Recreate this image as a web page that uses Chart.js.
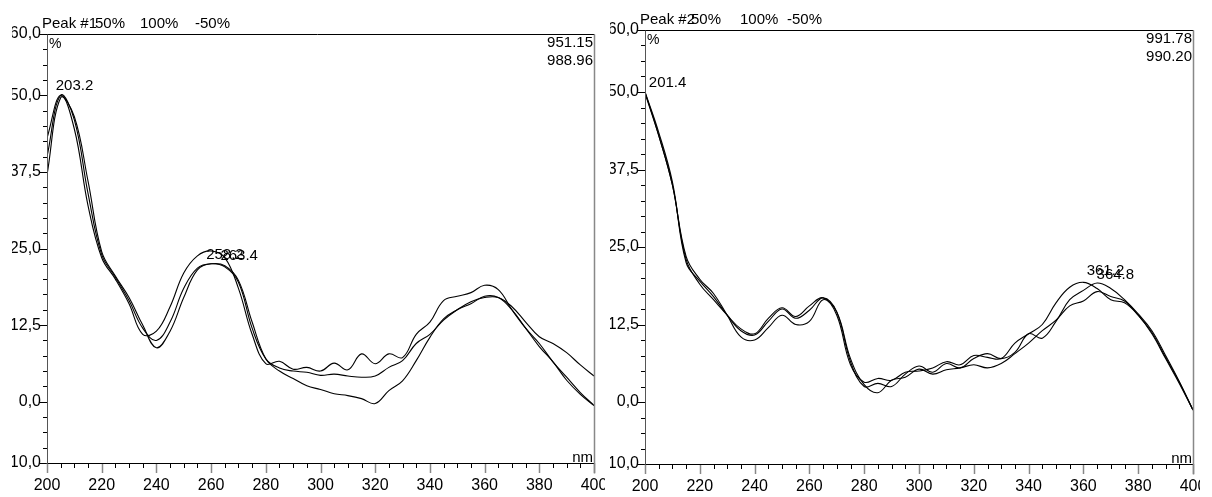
<!DOCTYPE html>
<html>
<head>
<meta charset="utf-8">
<script src="https://cdn.jsdelivr.net/npm/chart.js@4.4.1/dist/chart.umd.min.js"></script>
<style>
  body { margin: 0; background: #fff; width: 1212px; height: 497px; position: relative; overflow: hidden; }
  .panel { position: absolute; top: 0; }
  #p1 { left: 12px; }
  #p2 { left: 610px; }
</style>
</head>
<body>
<div class="panel" id="p1"><canvas id="c1" width="593" height="497"></canvas></div>
<div class="panel" id="p2"><canvas id="c2" width="590" height="497"></canvas></div>
<script>
const FONT = "'Liberation Sans', Arial, sans-serif"

// wavelength grid (nm)
const wavelengths = [200, 205, 210, 215, 220, 225, 230, 235, 240, 245, 250, 255, 260, 265, 270, 275, 280, 285, 290, 295, 300,
  305, 310, 315, 320, 325, 330, 335, 340, 345, 350, 355, 360, 365, 370, 375, 380, 385, 390, 395, 400]

// Peak #1 spectra (%)
const peak1A = [43, 50, 44.5, 32, 23.5, 20, 16, 11, 11.5, 15.5, 21, 23.8, 24.6, 23.5, 18.5, 11, 6.2, 6.6, 5.3, 5.6, 5.0,
  6.3, 5.2, 7.8, 6.2, 7.8, 7.2, 11, 13, 16.5, 17.2, 17.8, 19, 18.3, 15, 12, 9.5, 6.5, 4, 1.5, -0.6]
const peak1B = [40, 50, 46, 34, 24, 20.3, 16.5, 12, 10, 13, 18.5, 21.8, 22.5, 22, 19.5, 12, 7, 5.5, 5, 4.8, 4.3,
  4.5, 4.2, 4.0, 4.2, 5.6, 6.7, 9.5, 11, 13.3, 15, 16.3, 17, 17, 15.5, 13, 10.6, 9.5, 8, 6, 4.2]
const peak1C = [37, 49.6, 46.5, 36, 24.5, 20.5, 17, 12.5, 8.8, 11.5, 17, 21.5, 22.5, 22.2, 19.8, 13, 7, 5, 3.8, 2.6, 2.0,
  1.3, 1.0, 0.5, -0.3, 1.8, 3.4, 6.7, 10.5, 13.5, 15, 16, 17.2, 17, 15, 12, 9, 6.5, 3.5, 1.2, -0.65]

// Peak #2 spectra (%)
const peak2A = [50, 43, 35, 23, 19, 16.5, 14, 11.8, 11, 13.5, 15.2, 13.8, 15.5, 16.8, 14, 6, 3.2, 3.8, 3.5, 4.8, 5.0,
  5.5, 6.5, 6.0, 7.5, 7.2, 7.0, 9.5, 11, 12.5, 16, 18.5, 19.3, 18.3, 16.5, 16, 14, 11, 7, 3, -1.3]
const peak2B = [50, 43.5, 35.5, 22.5, 19.5, 17, 14, 11.5, 10.8, 13, 15, 13.5, 14.8, 16.8, 14.5, 6.5, 2.5, 3, 2.5, 4.5, 5.8,
  4.8, 6.2, 5.5, 7, 7.8, 7, 8, 11, 10.3, 13, 16.5, 18, 19.2, 18.3, 16.5, 14.2, 11.5, 7.5, 3.3, -1.3]
const peak2C = [49.8, 43, 35, 23.5, 19.8, 17.5, 14, 10.5, 10, 12, 14, 12.5, 13, 16.5, 14.5, 7, 2.8, 1.5, 3.5, 4, 5.3,
  4.5, 5.2, 5.5, 6, 5.5, 6.2, 7.8, 9.5, 11.5, 13.2, 15.5, 16.3, 17.8, 17, 16.3, 14, 11.2, 7.2, 3.2, -1.3]

const yTickValues = [-10, 0, 12.5, 25, 37.5, 50, 60]
const xTickValues = [200, 220, 240, 260, 280, 300, 320, 340, 360, 380, 400]

const peak1Labels = ["203.2", "258.2", "263.4"]
const peak1LabelNm = [203.2, 258.2, 263.4]
const peak1LabelVal = [50, 22.5, 22.3]
const peak2Labels = ["201.4", "361.2", "364.8"]
const peak2LabelNm = [201.4, 361.2, 364.8]
const peak2LabelVal = [50, 19.7, 19.0]

const frame = {
  id: "frame",
  afterDraw(chart, args, o) {
    const { ctx, chartArea: a, scales: { x, y } } = chart
    ctx.save()
    ctx.lineWidth = 1
    // y ticks
    for (let k = 0; k <= 28; k++) {
      const v = -10 + 2.5 * k
      const py = Math.round(y.getPixelForValue(v)) + 0.5
      const major = yTickValues.includes(v)
      ctx.strokeStyle = "#000"
      ctx.beginPath()
      ctx.moveTo(a.left - (major ? 7 : 4), py)
      ctx.lineTo(a.left, py)
      ctx.stroke()
    }
    // x ticks
    for (let k = 0; k <= 40; k++) {
      const v = 200 + 5 * k
      const px = Math.round(x.getPixelForValue(v)) + 0.5
      const major = v % 20 === 0
      ctx.strokeStyle = major ? "#888" : "#000"
      ctx.lineWidth = major ? 1.5 : 1
      ctx.beginPath()
      ctx.moveTo(px, a.bottom)
      ctx.lineTo(px, a.bottom + (major ? 10 : 5))
      ctx.stroke()
    }
    ctx.lineWidth = 1
    // frame
    const L = Math.round(a.left) + 0.5, R = Math.round(a.right) + 0.5
    const T = Math.round(a.top) + 0.5, B = Math.round(a.bottom) + 0.5
    ctx.strokeStyle = "#000"
    ctx.beginPath(); ctx.moveTo(L - 7, T); ctx.lineTo(R, T); ctx.stroke()
    ctx.beginPath(); ctx.moveTo(L, B); ctx.lineTo(R, B); ctx.stroke()
    ctx.strokeStyle = "#555"
    ctx.beginPath(); ctx.moveTo(L, T); ctx.lineTo(L, B); ctx.stroke()
    ctx.strokeStyle = "#888"
    ctx.lineWidth = 1.5
    ctx.beginPath(); ctx.moveTo(R, T); ctx.lineTo(R, B + 10); ctx.stroke()

    // texts
    ctx.fillStyle = "#000"
    ctx.font = "15px " + FONT
    ctx.textBaseline = "alphabetic"
    ctx.textAlign = "left"
    ctx.fillText(o.name, a.left - 5, a.top - 6)
    ctx.fillText("50%", a.left + o.t50, a.top - 6)
    ctx.fillText("100%", a.left + o.t100, a.top - 6)
    ctx.fillText("-50%", a.left + o.tm50, a.top - 6)
    ctx.font = "14px " + FONT
    ctx.fillText("%", a.left + 2, a.top + 14)
    ctx.font = "15px " + FONT
    ctx.textAlign = "right"
    ctx.fillText(o.num1, a.right - 1, a.top + 13)
    ctx.fillText(o.num2, a.right - 1, a.top + 31)
    ctx.fillText("nm", a.right - 1, a.bottom - 1)
    ctx.textAlign = "left"
    o.labels.forEach((t, i) => {
      ctx.fillText(t, x.getPixelForValue(o.labelNm[i]), y.getPixelForValue(o.labelVal[i]) - 5)
    })
    ctx.restore()
  }
}

function makeChart(id, series, opts) {
  const datasets = series.map(s => ({
    data: wavelengths.map((w, i) => ({ x: w, y: s[i] })),
    borderColor: "#000",
    borderWidth: 1.1,
    pointRadius: 0,
    tension: 0.4,
    fill: false
  }))
  return new Chart(document.getElementById(id), {
    type: "line",
    data: { datasets },
    options: {
      responsive: false,
      animation: false,
      layout: { padding: { top: opts.top, right: opts.right, left: 0, bottom: 0 } },
      plugins: { legend: { display: false }, tooltip: { enabled: false }, frame: opts.frame },
      scales: {
        x: {
          type: "linear", min: 200, max: 400,
          grid: { display: false, drawTicks: false },
          border: { display: false },
          afterBuildTicks: s => { s.ticks = xTickValues.map(v => ({ value: v })) },
          afterFit: s => { s.height = opts.bottomH; s.paddingLeft = 0; s.paddingRight = 0 },
          ticks: { autoSkip: false, maxRotation: 0, padding: 13, color: "#000", font: { family: FONT, size: 16 }, callback: v => String(v) }
        },
        y: {
          type: "linear", min: -10, max: 60,
          grid: { display: false, drawTicks: false },
          border: { display: false },
          afterBuildTicks: s => { s.ticks = yTickValues.map(v => ({ value: v })) },
          afterFit: s => { s.width = 35; s.paddingTop = 0; s.paddingBottom = 0 },
          ticks: { autoSkip: false, padding: 6, color: "#000", font: { family: FONT, size: 16 }, callback: v => v.toFixed(1).replace(".", ",") }
        }
      }
    },
    plugins: [frame]
  })
}

makeChart("c1", [peak1A, peak1B, peak1C], {
  top: 34, right: 11, bottomH: 34,
  frame: { name: "Peak #1", t50: 48, t100: 93, tm50: 148, num1: "951.15", num2: "988.96",
    labels: peak1Labels, labelNm: peak1LabelNm, labelVal: peak1LabelVal }
})
makeChart("c2", [peak2A, peak2B, peak2C], {
  top: 30, right: 7, bottomH: 33,
  frame: { name: "Peak #2", t50: 46, t100: 95, tm50: 142, num1: "991.78", num2: "990.20",
    labels: peak2Labels, labelNm: peak2LabelNm, labelVal: peak2LabelVal }
})
</script>
</body>
</html>
